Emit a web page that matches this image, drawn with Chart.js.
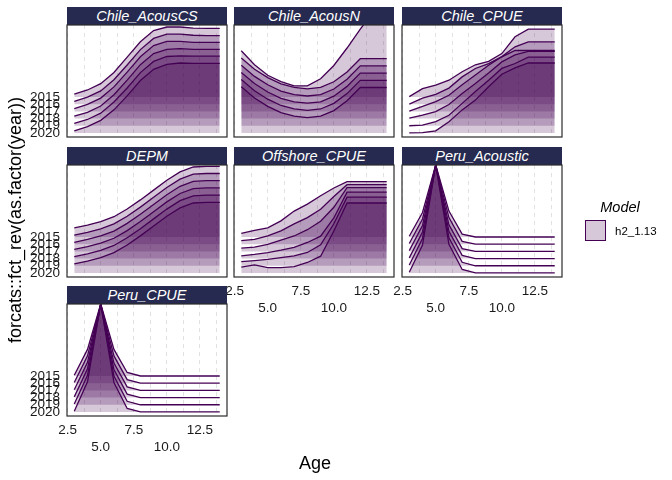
<!DOCTYPE html>
<html>
<head>
<meta charset="utf-8">
<script src="https://cdn.jsdelivr.net/npm/chart.js@4/dist/chart.umd.min.js"></script>
<style>
  body { margin: 0; width: 672px; height: 480px; background: #fff; position: relative; overflow: hidden;
         font-family: "Liberation Sans", Arial, sans-serif; color: #000; }
  canvas { position: absolute; left: 0; top: 0; }
  .strip { position: absolute; height: 18px; line-height: 18px; background: #262a50; color: #fff;
           font-style: italic; font-size: 14.5px; text-align: center; }
  .ttl { position: absolute; font-size: 18px; white-space: nowrap; text-align: center; }
</style>
</head>
<body>
<script>
// --- data -------------------------------------------------------------
const years = [2015, 2016, 2017, 2018, 2019, 2020];
const ages = [3, 4, 5, 6, 7, 8, 9, 10, 11, 12, 13, 14];
const xTickValues = [2.5, 5, 7.5, 10, 12.5];
const xTickLabels = ['2.5', '5.0', '7.5', '10.0', '12.5'];
const gridAges = [2.5, 3.75, 5, 6.25, 7.5, 8.75, 10, 11.25, 12.5, 13.75];
const fleets = ['Chile_AcousCS', 'Chile_AcousN', 'Chile_CPUE', 'DEPM', 'Offshore_CPUE', 'Peru_Acoustic', 'Peru_CPUE'];
const modelName = 'h2_1.13';

// selectivity by year (rows 2015..2020), one value per age
const chileAcousCS = [
  [0.04, 0.10, 0.19, 0.35, 0.57, 0.79, 0.95, 1.00, 1.00, 0.985, 0.98, 0.98],
  [0.04, 0.10, 0.19, 0.35, 0.56, 0.78, 0.94, 1.00, 1.00, 0.985, 0.98, 0.98],
  [0.04, 0.10, 0.19, 0.35, 0.56, 0.78, 0.94, 1.00, 1.00, 0.985, 0.985, 0.985],
  [0.035, 0.09, 0.18, 0.34, 0.55, 0.77, 0.93, 0.99, 1.00, 0.99, 0.99, 0.99],
  [0.035, 0.09, 0.18, 0.34, 0.54, 0.76, 0.92, 0.99, 1.00, 0.995, 0.995, 0.995],
  [0.03, 0.09, 0.18, 0.33, 0.53, 0.75, 0.91, 0.98, 1.00, 0.995, 0.995, 0.995]
];
const chileAcousN = [
  [0.66, 0.46, 0.31, 0.22, 0.16, 0.16, 0.26, 0.45, 0.70, 0.97, 1.22, 1.47],
  [0.66, 0.50, 0.38, 0.29, 0.24, 0.22, 0.24, 0.32, 0.46, 0.65, 0.65, 0.65],
  [0.66, 0.50, 0.38, 0.29, 0.24, 0.22, 0.24, 0.32, 0.46, 0.65, 0.65, 0.65],
  [0.66, 0.50, 0.38, 0.29, 0.24, 0.22, 0.24, 0.32, 0.46, 0.65, 0.65, 0.65],
  [0.66, 0.50, 0.38, 0.29, 0.24, 0.22, 0.24, 0.32, 0.46, 0.65, 0.65, 0.65],
  [0.66, 0.50, 0.38, 0.29, 0.24, 0.22, 0.24, 0.32, 0.46, 0.65, 0.65, 0.65]
];
const chileCPUE = [
  [0.005, 0.12, 0.17, 0.24, 0.36, 0.46, 0.51, 0.62, 0.86, 0.97, 0.97, 0.97],
  [0.00, 0.085, 0.14, 0.23, 0.39, 0.51, 0.58, 0.68, 0.82, 0.89, 0.89, 0.89],
  [0.005, 0.07, 0.14, 0.23, 0.38, 0.52, 0.66, 0.78, 0.87, 0.87, 0.87, 0.87],
  [0.005, 0.05, 0.10, 0.20, 0.36, 0.50, 0.65, 0.81, 0.91, 0.96, 0.96, 0.96],
  [0.00, 0.01, 0.06, 0.15, 0.32, 0.49, 0.65, 0.82, 0.89, 0.98, 0.98, 0.98],
  [0.00, 0.005, 0.03, 0.16, 0.33, 0.47, 0.66, 0.84, 0.93, 1.00, 1.00, 1.00]
];
const depm = [
  [0.13, 0.17, 0.22, 0.29, 0.40, 0.53, 0.67, 0.81, 0.93, 1.00, 1.01, 1.01],
  [0.13, 0.17, 0.22, 0.29, 0.40, 0.53, 0.67, 0.81, 0.93, 1.00, 1.01, 1.01],
  [0.13, 0.17, 0.22, 0.29, 0.40, 0.53, 0.67, 0.81, 0.93, 1.00, 1.01, 1.01],
  [0.13, 0.17, 0.22, 0.29, 0.40, 0.53, 0.67, 0.81, 0.93, 1.00, 1.01, 1.01],
  [0.13, 0.17, 0.22, 0.29, 0.40, 0.53, 0.67, 0.81, 0.93, 1.00, 1.01, 1.01],
  [0.13, 0.17, 0.22, 0.29, 0.40, 0.53, 0.67, 0.81, 0.93, 1.00, 1.01, 1.01]
];
const offshoreCPUE = [
  [0.05, 0.095, 0.13, 0.23, 0.37, 0.47, 0.59, 0.70, 0.79, 0.79, 0.79, 0.79],
  [0.05, 0.07, 0.12, 0.19, 0.29, 0.38, 0.50, 0.68, 0.85, 0.85, 0.85, 0.85],
  [0.045, 0.06, 0.10, 0.16, 0.22, 0.31, 0.43, 0.63, 0.91, 0.91, 0.91, 0.91],
  [0.04, 0.06, 0.085, 0.12, 0.16, 0.23, 0.32, 0.58, 0.95, 0.95, 0.95, 0.95],
  [0.06, 0.075, 0.09, 0.115, 0.14, 0.19, 0.30, 0.60, 0.98, 0.98, 0.98, 0.98],
  [0.085, 0.115, 0.075, 0.075, 0.09, 0.15, 0.24, 0.60, 1.00, 1.00, 1.00, 1.00]
];
const peruAcoustic = [
  [0.01, 0.35, 1.03, 0.37, 0.04, 0, 0, 0, 0, 0, 0, 0],
  [0.01, 0.36, 1.13, 0.38, 0.04, 0, 0, 0, 0, 0, 0, 0],
  [0.01, 0.37, 1.23, 0.38, 0.04, 0, 0, 0, 0, 0, 0, 0],
  [0.01, 0.38, 1.34, 0.39, 0.045, 0, 0, 0, 0, 0, 0, 0],
  [0.01, 0.39, 1.44, 0.40, 0.05, 0, 0, 0, 0, 0, 0, 0],
  [0.01, 0.40, 1.54, 0.41, 0.05, 0, 0, 0, 0, 0, 0, 0]
];
const peruCPUE = [
  [0.01, 0.38, 1.03, 0.38, 0.05, 0, 0, 0, 0, 0, 0, 0],
  [0.01, 0.39, 1.13, 0.39, 0.05, 0, 0, 0, 0, 0, 0, 0],
  [0.01, 0.40, 1.23, 0.39, 0.05, 0, 0, 0, 0, 0, 0, 0],
  [0.01, 0.41, 1.34, 0.40, 0.05, 0, 0, 0, 0, 0, 0, 0],
  [0.01, 0.42, 1.44, 0.41, 0.05, 0, 0, 0, 0, 0, 0, 0],
  [0.01, 0.43, 1.54, 0.42, 0.05, 0, 0, 0, 0, 0, 0, 0]
];
const selex = [chileAcousCS, chileAcousN, chileCPUE, depm, offshoreCPUE, peruAcoustic, peruCPUE];

// --- layout / style ---------------------------------------------------
const W = 672, H = 480;
const SCALE = 9.72;            // ridge height (in y levels) for selectivity 1
const YMIN = 0.44, YMAX = 16;
const LINE = '#440154', FILL = 'rgba(68,1,84,0.22)';
const colX = [67, 234, 402], rowY = [25, 165, 304], PW = 160, PH = 112;
const place = [[0, 0], [1, 0], [2, 0], [0, 1], [1, 1], [2, 1], [0, 2]];
const xAxisShown = [false, false, false, false, true, true, true];
const FONT = { family: '"Liberation Sans", Arial, sans-serif', size: 13.5, lineHeight: 1.23 };

const panelBorder = {
  id: 'panelBorder',
  afterDatasetsDraw(chart) {
    const a = chart.chartArea, ctx = chart.ctx;
    ctx.save();
    ctx.strokeStyle = '#2b2b2b';
    ctx.lineWidth = 1.2;
    ctx.strokeRect(a.left, a.top, a.right - a.left, a.bottom - a.top);
    ctx.restore();
  }
};

function addDiv(cls, text, css) {
  const d = document.createElement('div');
  d.className = cls;
  d.textContent = text;
  Object.assign(d.style, css);
  document.body.appendChild(d);
  return d;
}

fleets.forEach((name, p) => {
  const [c, r] = place[p];
  const L = colX[c], T = rowY[r];
  const yW = c === 0 ? 45 : 0;
  const xH = xAxisShown[p] ? 40 : 0;

  addDiv('strip', name, { left: L + 'px', top: (T - 18) + 'px', width: PW + 'px' });

  const cv = document.createElement('canvas');
  cv.width = W; cv.height = H;
  document.body.appendChild(cv);

  const datasets = years.map((yr, i) => {
    const lvl = years.length - i;
    return {
      label: String(yr),
      data: ages.map((a, k) => ({ x: a, y: lvl + selex[p][i][k] * SCALE })),
      fill: { value: lvl },
      backgroundColor: FILL,
      borderColor: LINE,
      borderWidth: 1.3,
      pointRadius: 0,
      tension: 0,
      clip: 0
    };
  }).reverse();

  new Chart(cv, {
    type: 'line',
    data: { datasets },
    options: {
      responsive: false,
      animation: false,
      events: [],
      layout: { padding: { left: L - yW, top: T, right: W - L - PW, bottom: H - T - PH - xH } },
      plugins: { legend: { display: false }, tooltip: { enabled: false } },
      scales: {
        x: {
          type: 'linear', min: 2.45, max: 14.55,
          afterBuildTicks: s => { s.ticks = gridAges.map(v => ({ value: v })); },
          afterFit: s => { s.height = xH; },
          grid: { color: '#e2e2e2', lineWidth: 1, drawTicks: false },
          border: { display: false, dash: [4, 4] },
          ticks: {
            display: xAxisShown[p], autoSkip: false, maxRotation: 0, padding: 6,
            font: FONT, color: '#1a1a1a',
            callback: v => {
              const j = xTickValues.indexOf(v);
              if (j < 0) return '';
              return j % 2 ? ['', xTickLabels[j]] : xTickLabels[j];
            }
          }
        },
        y: {
          type: 'linear', min: YMIN, max: YMAX, display: c === 0,
          afterBuildTicks: s => { s.ticks = years.map((yr, i) => ({ value: years.length - i })); },
          afterFit: s => { s.width = yW; },
          grid: { display: false, drawTicks: false },
          border: { display: false },
          ticks: {
            autoSkip: false, padding: 7, font: FONT, color: '#1a1a1a',
            callback: v => String(years[years.length - v])
          }
        }
      }
    },
    plugins: [panelBorder]
  });
});

// axis titles
addDiv('ttl', 'Age', { left: '265px', top: '452px', width: '100px', lineHeight: '22px' });
addDiv('ttl', 'forcats::fct_rev(as.factor(year))',
  { left: (15 - 200) + 'px', top: (220 - 11) + 'px', width: '400px', lineHeight: '22px', transform: 'rotate(-90deg)' });

// legend
addDiv('ttl', 'Model', { left: '580px', top: '197px', width: '80px', fontSize: '14.5px', fontStyle: 'italic', lineHeight: '20px' });
addDiv('lg', '', { position: 'absolute', left: '585px', top: '220px', width: '19px', height: '19px',
  background: FILL, border: '1.5px solid ' + LINE });
addDiv('ttl', modelName, { left: '615px', top: '223px', fontSize: '11.5px', lineHeight: '16px', textAlign: 'left' });
</script>
</body>
</html>
